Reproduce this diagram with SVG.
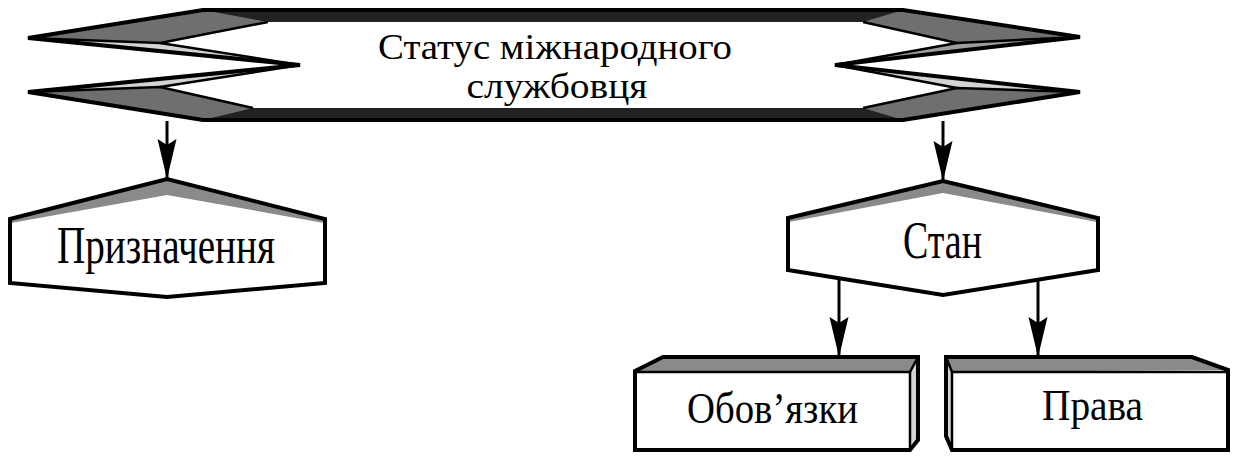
<svg xmlns="http://www.w3.org/2000/svg" width="1243" height="463" viewBox="0 0 1243 463">
<style>
  .lbl { font-family: "Liberation Serif", "Times New Roman", "DejaVu Serif", serif; fill: #000; text-anchor: middle; }
  .out { fill: none; stroke: #000; stroke-width: 4; stroke-linejoin: miter; }
  .edge { fill: none; stroke: #000; stroke-width: 2.5; stroke-linejoin: round; }
  .heavy { fill: #6f6f6f; }
  .medium { fill: #9c9c9c; }
  .light { fill: #d4d4d4; }
  .dark { fill: #222; }
  .face { fill: #fff; }
  .band { fill: #8a8a8a; }
  .conn { fill: none; stroke: #000; stroke-width: 3; marker-end: url(#ah); }
</style>
<defs>
  <marker id="ah" viewBox="-42 -11 44 22" markerWidth="44" markerHeight="22" refX="0" refY="0" orient="auto" markerUnits="userSpaceOnUse">
    <path d="M0,0 L-40,-9.5 L-34,0 L-40,9.5 Z" fill="#000"/>
  </marker>
</defs>
<rect width="1243" height="463" fill="#fff"/>

<g id="status">
  <polygon class="heavy" points="203,10 903,10 1080,37 835,65 1080,92 903,120 203,120 28,92 300,65 28,38"/>
  <polygon class="dark" points="203,10 903,10 863,22 268,22"/>
  <polygon class="dark" points="203,120 253,108 863,108 903,120"/>
  <polygon class="light" points="28,38 160,43 300,65"/>
  <polygon class="light" points="300,65 160,87 28,92"/>
  <polygon class="light" points="1080,92 957,88 835,65"/>
  <polygon class="medium" points="835,65 957,43 1080,37"/>
  <polygon class="face" points="268,22 863,22 957,43 835,65 957,88 863,108 253,108 160,87 300,65 160,43"/>
  <polyline class="edge" points="28,38 160,43 268,22"/>
  <polyline class="edge" points="28,92 160,87 253,108"/>
  <polyline class="edge" points="1080,37 957,43 863,22"/>
  <polyline class="edge" points="1080,92 957,88 863,108"/>
  <line class="edge" x1="160" y1="43" x2="300" y2="65"/>
  <line class="edge" x1="160" y1="87" x2="300" y2="65"/>
  <line class="edge" x1="957" y1="43" x2="835" y2="65"/>
  <line class="edge" x1="957" y1="88" x2="835" y2="65"/>
  <polygon class="out" points="203,10 903,10 1080,37 835,65 1080,92 903,120 203,120 28,92 300,65 28,38"/>
  <text class="lbl" font-size="35"><tspan x="555" y="58.5" textLength="354" lengthAdjust="spacingAndGlyphs">Статус міжнародного</tspan><tspan x="557" y="97.5" textLength="181" lengthAdjust="spacingAndGlyphs">службовця</tspan></text>
</g>

<g id="pryznachennia">
  <polygon class="band" points="10,219 167,179 325,219 325,283 167,297 10,283"/>
  <polygon class="face" points="11,223 167,195 324,223 325,283 167,297 10,283"/>
  <polygon class="out" points="10,219 167,179 325,219 325,283 167,297 10,283"/>
  <text class="lbl" x="166" y="263" font-size="52" textLength="218" lengthAdjust="spacingAndGlyphs">Призначення</text>
</g>

<g id="stan">
  <polygon class="band" points="788,218 943,181 1098,218 1098,270 943,295 788,270"/>
  <polygon class="face" points="789,222 943,193 1097,222 1098,270 943,295 788,270"/>
  <polygon class="out" points="788,218 943,181 1098,218 1098,270 943,295 788,270"/>
  <text class="lbl" x="942.5" y="258" font-size="52" textLength="79" lengthAdjust="spacingAndGlyphs">Стан</text>
</g>

<g id="oboviazky">
  <polygon class="band" points="635,371 663,357 918,357 910,372"/>
  <polygon class="light" points="910,372 918,357 918,440 910,450"/>
  <rect class="face" x="635" y="372" width="275" height="78"/>
  <polygon class="out" points="635,371 663,357 918,357 918,440 910,450 635,450"/>
  <polyline class="edge" points="635,372 910,372 910,450"/>
  <line class="edge" x1="910" y1="372" x2="918" y2="357"/>
  <text class="lbl" x="772.5" y="423" font-size="44" textLength="171" lengthAdjust="spacingAndGlyphs">Обов’язки</text>
</g>

<g id="prava">
  <polygon class="band" points="946,357 1192,357 1228,370 952,372"/>
  <polygon class="light" points="946,357 952,372 952,450 946,436"/>
  <rect class="face" x="952" y="372" width="276" height="78"/>
  <polygon class="out" points="946,357 1192,357 1228,370 1228,450 952,450 946,436"/>
  <polyline class="edge" points="946,357 952,372 1228,372"/>
  <line class="edge" x1="952" y1="372" x2="952" y2="450"/>
  <text class="lbl" x="1092.5" y="420" font-size="44" textLength="101" lengthAdjust="spacingAndGlyphs">Права</text>
</g>

<g id="connectors">
  <path class="conn" d="M167,121 V179"/>
  <path class="conn" d="M943,121 V181"/>
  <path class="conn" d="M839,278 V357"/>
  <path class="conn" d="M1038,279 V357"/>
</g>
</svg>
